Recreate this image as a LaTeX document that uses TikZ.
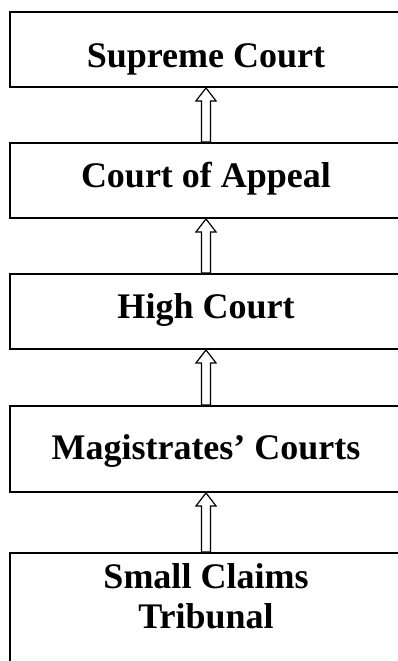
\documentclass[tikz,border=0pt]{standalone}
\usepackage{fontspec}
\setmainfont{Liberation Serif}
\usetikzlibrary{calc}

\tikzset{
	court/.style={draw, rectangle, line width=1.4pt, inner sep=0pt, minimum width=294pt,
		text depth=0pt, font=\fontsize{27}{30}\selectfont\bfseries},
	upblock/.style={draw, fill=white, line width=0.9pt, line join=miter, to path={
		($(\tikztostart)+(-4.5,0)$) -- ($(\tikztotarget)+(-4.5,13)$) -- ($(\tikztotarget)+(-10,13)$)
		-- (\tikztotarget) -- ($(\tikztotarget)+(10,13)$) -- ($(\tikztotarget)+(4.5,13)$)
		-- ($(\tikztostart)+(4.5,0)$) -- cycle}}
}

\begin{document}
\begin{tikzpicture}[x=0.75pt,y=-0.75pt]

	%Frame of the whole picture
	\useasboundingbox (0,0) rectangle (397,661);

	%Centre line of the boxes
	\pgfmathsetmacro{\cx}{206}

	%The courts, top to bottom
	\node[court, minimum height=56.25pt, text height=26.25pt] (supreme) at (\cx,49.5) {Supreme Court};
	\node[court, minimum height=56.25pt, text height=10.2pt] (appeal) at (\cx,180.5) {Court of Appeal};
	\node[court, minimum height=56.25pt, text height=10.8pt] (high) at (\cx,311.5) {High Court};
	\node[court, minimum height=64.5pt, text height=15pt] (magistrates) at (\cx,449) {Magistrates’ Courts};
	\node[court, minimum height=90pt, align=center, text height=22.5pt] (smallclaims) at (\cx,613) {Small Claims\\Tribunal};

	%Hollow arrows between the boxes
	\draw[upblock] (appeal.north) to (supreme.south);
	\draw[upblock] (high.north) to (appeal.south);
	\draw[upblock] (magistrates.north) to (high.south);
	\draw[upblock] (smallclaims.north) to (magistrates.south);

\end{tikzpicture}
\end{document}
